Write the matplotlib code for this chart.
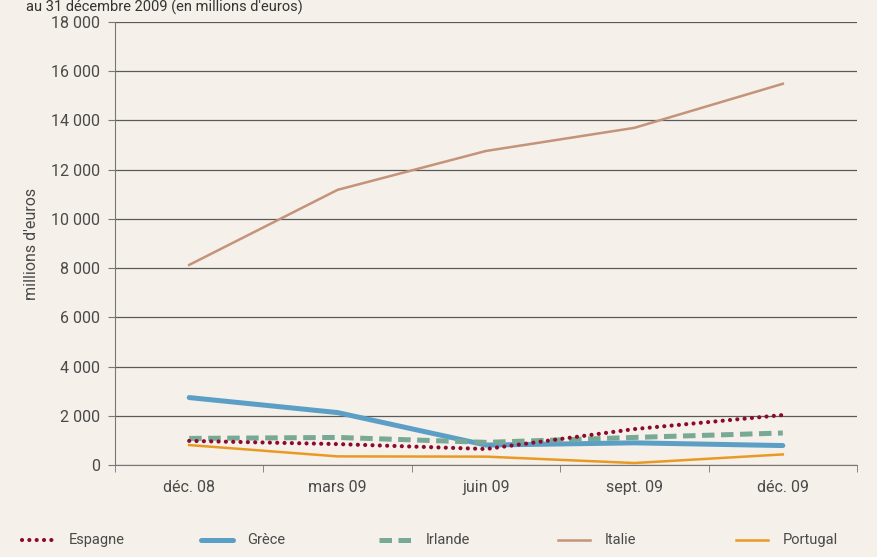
import matplotlib.pyplot as plt
from matplotlib.lines import Line2D
from matplotlib.ticker import FuncFormatter, FixedLocator

# data (millions d'euros)
mois = ["déc. 08", "mars 09", "juin 09", "sept. 09", "déc. 09"]
espagne = [980, 850, 650, 1460, 2030]
grece = [2740, 2130, 810, 900, 790]
irlande = [1080, 1120, 920, 1120, 1300]
italie = [8130, 11180, 12760, 13700, 15490]
portugal = [810, 350, 340, 80, 430]

bg = "#f5f0e9"
txt = "#4a4a4a"
plt.rcParams["font.family"] = ["Roboto", "DejaVu Sans"]

fig = plt.figure(figsize=(8.77, 5.57), dpi=100, facecolor=bg)
ax = fig.add_axes([115 / 877, 92 / 557, 742 / 877, 443 / 557])
ax.set_facecolor(bg)

styles = {
    "Italie": dict(color="#c4937a", lw=1.8),
    "Portugal": dict(color="#e99a25", lw=1.8),
    "Grèce": dict(color="#5b9fc6", lw=3.6, solid_capstyle="round"),
    "Irlande": dict(color="#78a996", lw=3.6, ls=(0, (2.5, 1.3))),
    "Espagne": dict(color="#8b0a2e", lw=3.0, ls=(0, (0.01, 1.75)), dash_capstyle="round"),
}
series = {"Italie": italie, "Portugal": portugal, "Grèce": grece,
          "Irlande": irlande, "Espagne": espagne}

x = list(range(len(mois)))
for name, vals in series.items():
    ax.plot(x, vals, **styles[name])

ax.set_xlim(-0.5, len(mois) - 0.5)
ax.set_ylim(0, 18000)
ax.set_yticks(range(0, 18001, 2000))
ax.yaxis.set_major_formatter(FuncFormatter(lambda v, p: f"{int(v):,}".replace(",", " ")))
ax.grid(axis="y", color="#5a5a5a", lw=0.9)
ax.set_axisbelow(True)

ax.set_xticks(x)
ax.set_xticklabels(mois)
ax.xaxis.set_minor_locator(FixedLocator([i - 0.5 for i in range(len(mois) + 1)]))
ax.tick_params(axis="x", which="major", length=0, pad=11)
ax.tick_params(axis="x", which="minor", length=5, color="#777777")
ax.tick_params(axis="y", length=5, color="#777777", pad=6)
ax.tick_params(labelsize=11.5, labelcolor=txt)

for s in ["top", "right"]:
    ax.spines[s].set_visible(False)
for s in ["left", "bottom"]:
    ax.spines[s].set_color("#777777")

ax.set_ylabel("millions d'euros", fontsize=11.5, color=txt, labelpad=8)

fig.text(0.03, 1.0, "au 31 décembre 2009 (en millions d'euros)",
         fontsize=10.5, color="#333333", va="top", ha="left")

# legend drawn by hand along the bottom
order = ["Espagne", "Grèce", "Irlande", "Italie", "Portugal"]
W, H = 877, 557
ly = 1 - 540 / H
for i, name in enumerate(order):
    x0 = 22 + i * 178.5
    fig.add_artist(Line2D([x0 / W, (x0 + 32) / W], [ly, ly], **styles[name]))
    fig.text((x0 + 47) / W, ly, name, fontsize=10.5, color=txt, va="center", ha="left")

fig.savefig("out.png", dpi=100, facecolor=bg)
